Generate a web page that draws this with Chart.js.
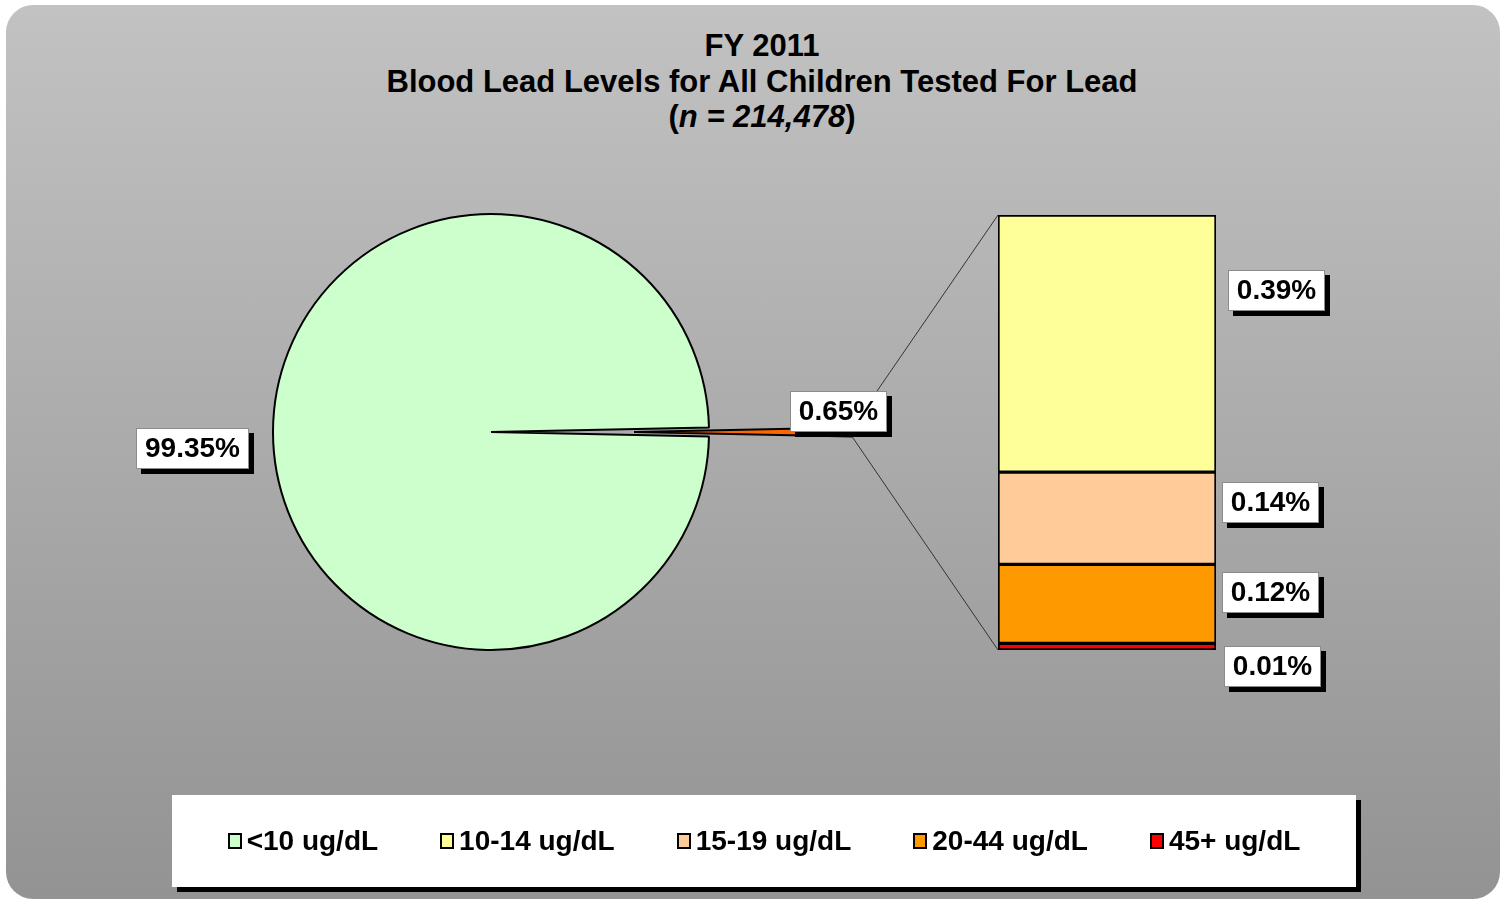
<!DOCTYPE html>
<html>
<head>
<meta charset="utf-8">
<script src="https://cdn.jsdelivr.net/npm/chart.js@4.4.1/dist/chart.umd.min.js"></script>
<style>
  body { margin: 0; background: #fff; font-family: "Liberation Sans", Arial, sans-serif; }
  #page { position: relative; width: 1508px; height: 899px; overflow: hidden; }
  #panel { position: absolute; left: 6px; top: 5px; width: 1494px; height: 894px; border-radius: 27px;
           background: linear-gradient(#c2c2c2, #939393); }
  canvas { position: absolute; left: 0; top: 0; }
  #title { position: absolute; left: 262px; top: 28px; width: 1000px; text-align: center;
           font-weight: bold; font-size: 31px; line-height: 35.5px; color: #000; }
  #legend { position: absolute; left: 172px; top: 795px; width: 1184px; height: 92px; background: #fff;
            box-shadow: 5px 5px 0 #000; display: flex; align-items: center; justify-content: center; gap: 62px;
            font-weight: bold; font-size: 28px; color: #000; }
  #legend .item { display: flex; align-items: center; }
  #legend .box { width: 10px; height: 12px; border: 2px solid #000; margin-right: 5px; }
</style>
</head>
<body>
<div id="page">
  <div id="panel"></div>
  <div id="title">FY 2011<br>Blood Lead Levels for All Children Tested For Lead<br>(<i>n = 214,478</i>)</div>
  <canvas id="pieChart" width="1508" height="899"></canvas>
  <canvas id="barChart" width="1508" height="899"></canvas>
  <div id="legend"></div>
</div>
<script>
// data
const categories = ['<10 ug/dL', '10-14 ug/dL', '15-19 ug/dL', '20-44 ug/dL', '45+ ug/dL'];
const percents = [99.35, 0.39, 0.14, 0.12, 0.01];
const colors = ['#ccffcc', '#ffff99', '#ffcc99', '#ff9900', '#ff0000'];
const pieLabels = ['<10 ug/dL', 'Other'];
const pieValues = [99.35, 0.65];
const pieColors = ['#ccffcc', '#ff6600'];

// label nudges (dx from bar edge, dy from segment centre), by category index
const tagShift = { 1: [12, -53], 2: [6, -16], 3: [6, -11], 4: [8, 20] };
const explode = 143;
const font = 'bold 28px "Liberation Sans", Arial, sans-serif';

function drawTag(ctx, text, cx, cy) {
  ctx.save();
  ctx.font = font;
  const w = Math.round(ctx.measureText(text).width + 18), h = 41;
  const x = Math.round(cx - w / 2), y = Math.round(cy - h / 2);
  ctx.fillStyle = '#000';
  ctx.fillRect(x + 5, y + 5, w, h);
  ctx.fillStyle = '#fff';
  ctx.fillRect(x, y, w, h);
  ctx.strokeStyle = '#8c8c8c';
  ctx.lineWidth = 1;
  ctx.strokeRect(x + 0.5, y + 0.5, w - 1, h - 1);
  ctx.fillStyle = '#000';
  ctx.textAlign = 'center';
  ctx.textBaseline = 'middle';
  ctx.fillText(text, x + w / 2, y + h / 2 + 1);
  ctx.restore();
}

// legend
const legend = document.getElementById('legend');
categories.forEach((c, i) => {
  const item = document.createElement('div');
  item.className = 'item';
  const box = document.createElement('span');
  box.className = 'box';
  box.style.background = colors[i];
  const txt = document.createElement('span');
  txt.textContent = c;
  item.appendChild(box);
  item.appendChild(txt);
  legend.appendChild(item);
});

// pie chart - pull the "other" slice out to the right
const piePlugin = {
  id: 'pieExtras',
  afterDatasetsUpdate(chart) {
    const arc = chart.getDatasetMeta(0).data[1];
    const mid = (arc.startAngle + arc.endAngle) / 2;
    arc.x += explode * Math.cos(mid);
    arc.y += explode * Math.sin(mid);
  },
  afterDatasetsDraw(chart) {
    const arc = chart.getDatasetMeta(0).data[0];
    const r = arc.outerRadius;
    drawTag(chart.ctx, pieValues[0].toFixed(2) + '%', arc.x - r - 81, arc.y + 16);
  }
};

const pieChart = new Chart(document.getElementById('pieChart'), {
  type: 'pie',
  data: {
    labels: pieLabels,
    datasets: [{
      data: pieValues,
      backgroundColor: pieColors,
      borderColor: '#000',
      borderWidth: 2
    }]
  },
  options: {
    responsive: false,
    animation: false,
    events: [],
    rotation: 90 + pieValues[1] / 100 * 180,
    radius: 218,
    layout: { padding: { left: 273, right: 799, top: 214, bottom: 249 } },
    plugins: { legend: { display: false }, tooltip: { enabled: false } }
  },
  plugins: [piePlugin]
});

// bar of the small categories, stacked bottom-up: 45+, 20-44, 15-19, 10-14
const stackOrder = [4, 3, 2, 1];
const stackTotal = stackOrder.reduce((s, i) => s + percents[i], 0);

const barPlugin = {
  id: 'barExtras',
  beforeDatasetsDraw(chart) {
    const ctx = chart.ctx;
    const arc = pieChart.getDatasetMeta(0).data[1];
    const r = arc.outerRadius;
    const topEl = chart.getDatasetMeta(stackOrder.length - 1).data[0];
    const botEl = chart.getDatasetMeta(0).data[0];
    const left = topEl.x - topEl.width / 2;
    ctx.save();
    ctx.strokeStyle = '#333';
    ctx.lineWidth = 1;
    ctx.beginPath();
    ctx.moveTo(arc.x + r * Math.cos(arc.startAngle), arc.y + r * Math.sin(arc.startAngle));
    ctx.lineTo(left, topEl.y);
    ctx.moveTo(arc.x + r * Math.cos(arc.endAngle), arc.y + r * Math.sin(arc.endAngle));
    ctx.lineTo(left, botEl.base);
    ctx.stroke();
    ctx.restore();
  },
  afterDatasetsDraw(chart) {
    const ctx = chart.ctx;
    const arc = pieChart.getDatasetMeta(0).data[1];
    drawTag(ctx, pieValues[1].toFixed(2) + '%', arc.x + arc.outerRadius - 13.5, arc.y - 20.5);
    stackOrder.forEach((ci, di) => {
      const el = chart.getDatasetMeta(di).data[0];
      const [dx, dy] = tagShift[ci];
      const text = percents[ci].toFixed(2) + '%';
      ctx.save();
      ctx.font = font;
      const w = ctx.measureText(text).width + 18;
      ctx.restore();
      drawTag(ctx, text, el.x + el.width / 2 + dx + w / 2, (el.y + el.base) / 2 + dy);
    });
  }
};

new Chart(document.getElementById('barChart'), {
  type: 'bar',
  data: {
    labels: ['Other'],
    datasets: stackOrder.map(i => ({
      label: categories[i],
      data: [percents[i]],
      backgroundColor: colors[i],
      borderColor: '#000',
      borderWidth: 2,
      borderSkipped: false
    }))
  },
  options: {
    responsive: false,
    animation: false,
    events: [],
    barPercentage: 1,
    categoryPercentage: 1,
    layout: { padding: { left: 998, right: 292, top: 215, bottom: 249 } },
    scales: {
      x: { display: false, stacked: true },
      y: { display: false, stacked: true, min: 0, max: stackTotal }
    },
    plugins: { legend: { display: false }, tooltip: { enabled: false } }
  },
  plugins: [barPlugin]
});
</script>
</body>
</html>
